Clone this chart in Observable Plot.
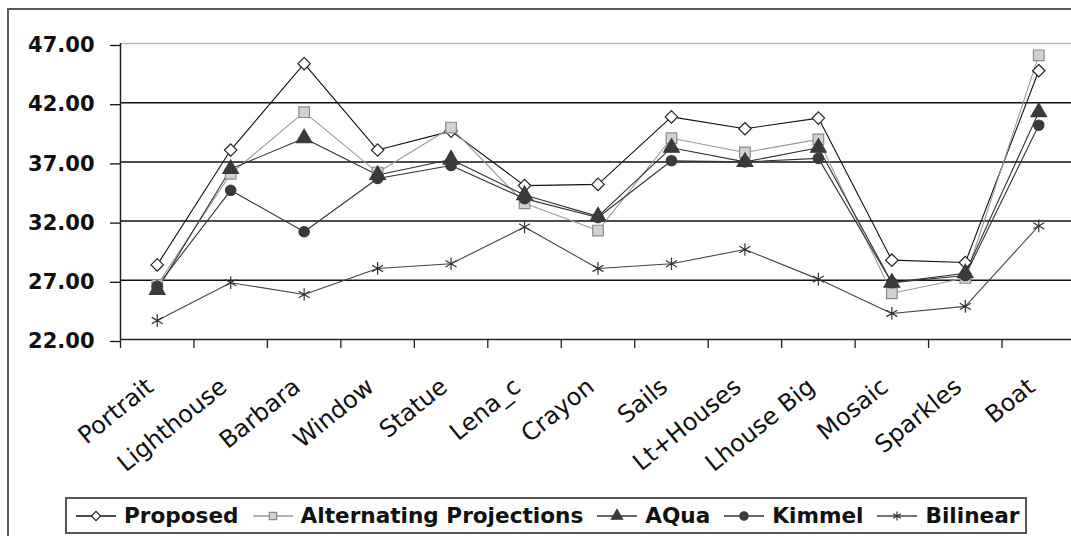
<!DOCTYPE html>
<html><head><meta charset="utf-8">
<script src="https://cdn.jsdelivr.net/npm/d3@7"></script>
<script src="https://cdn.jsdelivr.net/npm/@observablehq/plot@0.6"></script>
<style>
html,body{margin:0;padding:0;background:#fff;overflow:hidden;width:1071px;height:536px;}
#frame{position:absolute;left:7px;top:8px;width:1100px;height:600px;border:2px solid #5a5a5a;box-sizing:border-box;}
#chart{position:absolute;left:0;top:0;}
#legend{position:absolute;left:65px;top:497px;width:962px;height:37px;border:2px solid #555;box-sizing:border-box;display:flex;align-items:center;padding-left:9px;font-family:"DejaVu Sans";font-weight:bold;font-size:21.6px;color:#111;background:#fff;white-space:nowrap;}
.item{display:flex;align-items:center;margin-right:14px;}
.item svg{margin-right:8px;}
</style></head><body>
<div id="frame"></div><div id="chart"></div><div id="legend"></div>
<script>
const categories = ["Portrait","Lighthouse","Barbara","Window","Statue","Lena_c","Crayon","Sails","Lt+Houses","Lhouse Big","Mosaic","Sparkles","Boat"];
const proposed = [28.3, 38.0, 45.3, 38.0, 39.6, 35.0, 35.1, 40.8, 39.8, 40.7, 28.7, 28.5, 44.7];
const altProj  = [26.6, 36.0, 41.2, 36.1, 39.9, 33.5, 31.2, 39.0, 37.8, 38.9, 25.9, 27.2, 46.0];
const aqua     = [26.2, 36.4, 39.0, 35.9, 37.2, 34.2, 32.4, 38.2, 37.0, 38.2, 26.8, 27.6, 41.2];
const kimmel   = [26.5, 34.6, 31.1, 35.6, 36.7, 33.9, 32.3, 37.1, 37.0, 37.3, 26.8, 27.4, 40.1];
const bilinear = [23.6, 26.8, 25.8, 28.0, 28.4, 31.5, 28.0, 28.4, 29.6, 27.1, 24.2, 24.8, 31.6];
const seriesNames = ["Proposed","Alternating Projections","AQua","Kimmel","Bilinear"];
const seriesValues = [proposed, altProj, aqua, kimmel, bilinear];
const yTicks = [22, 27, 32, 37, 42, 47];
const gridTicks = [27, 32, 37, 42];

const lineColors = ["#111","#9a9a9a","#333","#333","#444"];
const symbols = ["diamond2","square","triangle","circle","asterisk"];
const fills = ["#fff","#d2d2d2","#3a3a3a","#3a3a3a","none"];
const strokes = ["#222","#8a8a8a","#3a3a3a","#3a3a3a","#333"];
const radii = [5.6, 6.0, 5.8, 5.2, 6.0];

const catPos = categories.map((c, i) => i + 0.5);
const bounds = d3.range(categories.length + 1);
const rows = seriesNames.map((s, k) => categories.map((c, i) => ({series: s, cat: c, pos: catPos[i], value: seriesValues[k][i]})));

const font = "DejaVu Sans";
const marks = [
  Plot.ruleY([47], {stroke: "#b8b8b8", strokeWidth: 1.5}),
  Plot.ruleY(gridTicks, {stroke: "#111", strokeWidth: 1.5}),
  Plot.axisY(yTicks, {tickSize: 10, tickPadding: 16, dy: 2, tickFormat: d3.format(".2f"), fontSize: 21, fontFamily: font, fontWeight: "bold", color: "#111", strokeWidth: 1.3, label: null}),
  Plot.axisX(bounds, {tickSize: 9, tickFormat: () => "", color: "#222", strokeWidth: 1.3, label: null}),
  Plot.axisX(catPos, {tickSize: 0, tickRotate: -39, tickPadding: 44, dx: -7, textAnchor: "end", tickFormat: v => categories[Math.floor(v)], fontSize: 24, fontFamily: font, color: "#111", label: null}),
  Plot.ruleX([0], {stroke: "#222", strokeWidth: 1.5}),
  Plot.ruleY([22], {stroke: "#222", strokeWidth: 1.5})
];
seriesNames.forEach((s, k) => {
  marks.push(Plot.line(rows[k], {x: "pos", y: "value", stroke: lineColors[k], strokeWidth: 1.1}));
});
seriesNames.forEach((s, k) => {
  marks.push(Plot.dot(rows[k], {x: "pos", y: "value", symbol: symbols[k], r: radii[k], fill: fills[k], stroke: strokes[k], strokeWidth: 1.2}));
});

const chart = Plot.plot({
  width: 1071, height: 490,
  marginLeft: 120, marginRight: 0, marginTop: 43, marginBottom: 151,
  x: {domain: [0, categories.length], range: [120, 1075]},
  y: {domain: [22, 47]},
  style: {background: "transparent", overflow: "visible"},
  marks
});
document.getElementById("chart").appendChild(chart);

// legend
const symMap = {diamond2: d3.symbolDiamond2, square: d3.symbolSquare, triangle: d3.symbolTriangle, circle: d3.symbolCircle, asterisk: d3.symbolAsterisk};
const legend = d3.select("#legend");
seriesNames.forEach((s, k) => {
  const item = legend.append("div").attr("class", "item");
  const svg = item.append("svg").attr("width", 40).attr("height", 20);
  svg.append("line").attr("x1", 0).attr("x2", 40).attr("y1", 10).attr("y2", 10).attr("stroke", lineColors[k]).attr("stroke-width", 1.3);
  svg.append("path").attr("transform", "translate(20,10)")
    .attr("d", d3.symbol(symMap[symbols[k]], 55)())
    .attr("fill", fills[k]).attr("stroke", strokes[k]).attr("stroke-width", 1.2);
  item.append("span").text(s);
});
</script>
</body></html>
